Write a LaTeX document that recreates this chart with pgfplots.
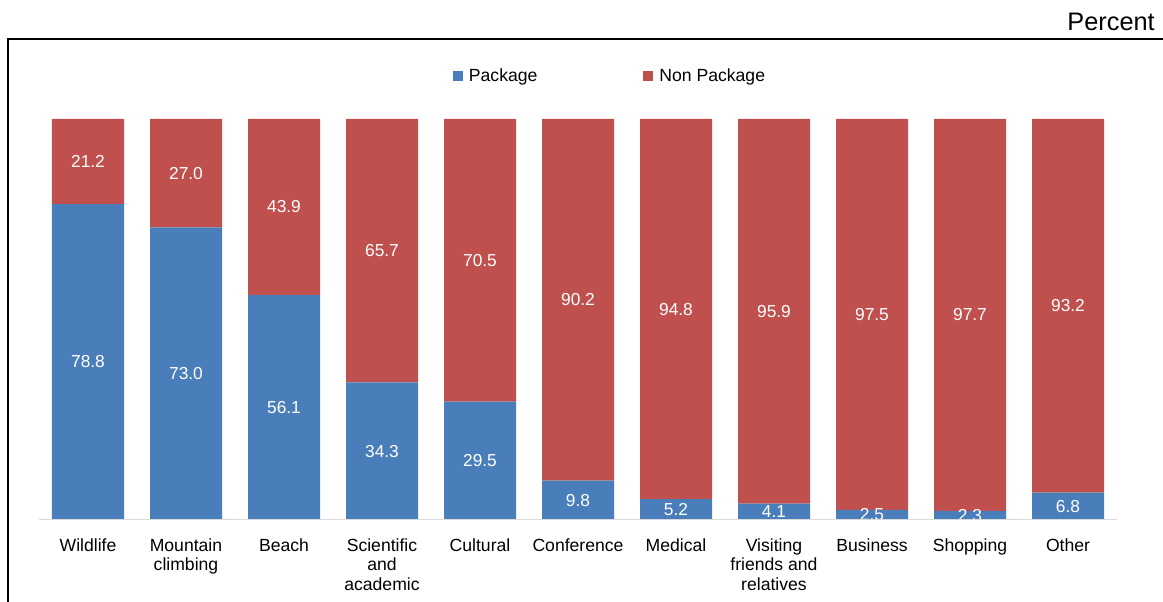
\documentclass[border=0pt]{standalone}
\usepackage{pgfplots}
\pgfplotsset{compat=1.18}
\usepackage{fontspec}
\setmainfont{Liberation Sans}
\definecolor{pkg}{RGB}{74,126,187}
\definecolor{nonpkg}{RGB}{192,80,77}
\definecolor{basegray}{RGB}{217,217,217}
\begin{document}
\begin{tikzpicture}
\path[use as bounding box] (-29.25pt,-61.5pt) rectangle (843pt,390pt);
\pgfplotsset{
  common/.style={
    scale only axis, width=808.5pt, height=300.75pt,
    xmin=-0.5, xmax=10.5, ymin=0, ymax=100,
    at={(0pt,0pt)}, anchor=south west,
  }
}
\begin{axis}[common, name=ax, ybar stacked, bar width=54pt,
  axis x line*=bottom, axis y line=none,
  x axis line style={basegray, line width=0.75pt, -},
  xtick={0,...,10},
  xticklabels={Wildlife,{Mountain\\climbing},Beach,{Scientific\\and\\academic},Cultural,Conference,Medical,{Visiting\\friends and\\relatives},Business,Shopping,Other},
  xtick style={draw=none}, major tick length=0pt,
  xticklabel style={font=\fontsize{13.2}{14.6}\selectfont, align=center, anchor=north, yshift=-10.5pt},
  ytick=\empty,
  legend style={at={(0.530,1.107)}, anchor=center, draw=none, fill=none,
    font=\fontsize{13.2}{15}\selectfont, legend columns=2,
    /tikz/every odd column/.append style={column sep=2.5pt},
    /tikz/every even column/.append style={column sep=77.5pt}},
  legend image code/.code={\fill[#1] (0pt,-3.75pt) rectangle (7.5pt,3.75pt);},
  ]
\addplot[fill=pkg, draw=none] coordinates {(0,78.8) (1,73.0) (2,56.1) (3,34.3) (4,29.5) (5,9.8) (6,5.2) (7,4.1) (8,2.5) (9,2.3) (10,6.8)};
\addplot[fill=nonpkg, draw=none] coordinates {(0,21.2) (1,27.0) (2,43.9) (3,65.7) (4,70.5) (5,90.2) (6,94.8) (7,95.9) (8,97.5) (9,97.7) (10,93.2)};
\legend{Package, Non Package}
\end{axis}
\begin{axis}[common, hide axis, clip=false]
\addplot[draw=none, nodes near coords, point meta=explicit symbolic,
  every node near coord/.append style={anchor=center, text=white, font=\fontsize{13}{15}\selectfont}]
  coordinates {(0,39.4)[78.8] (1,36.5)[73.0] (2,28.05)[56.1] (3,17.15)[34.3] (4,14.75)[29.5] (5,4.9)[9.8] (6,2.6)[5.2] (7,2.05)[4.1] (8,1.25)[2.5] (9,1.15)[2.3] (10,3.4)[6.8]};
\addplot[draw=none, nodes near coords, point meta=explicit symbolic,
  every node near coord/.append style={anchor=center, text=white, font=\fontsize{13}{15}\selectfont}]
  coordinates {(0,89.4)[21.2] (1,86.5)[27.0] (2,78.05)[43.9] (3,67.15)[65.7] (4,64.75)[70.5] (5,54.9)[90.2] (6,52.6)[94.8] (7,52.05)[95.9] (8,51.25)[97.5] (9,51.15)[97.7] (10,53.4)[93.2]};
\end{axis}
\fill[white] ([yshift=-0.4pt]ax.south west) rectangle ([yshift=-7pt]ax.south east);
\draw[basegray, line width=0.75pt] (ax.south west) -- (ax.south east);
\draw[black, line width=1pt] (-23.25pt,-80pt) -- (-23.25pt,360.75pt) -- (870pt,360.75pt);
\node[anchor=east, font=\fontsize{19}{22}\selectfont, inner sep=0pt] at (837pt,373.5pt) {Percent};
\end{tikzpicture}
\end{document}
